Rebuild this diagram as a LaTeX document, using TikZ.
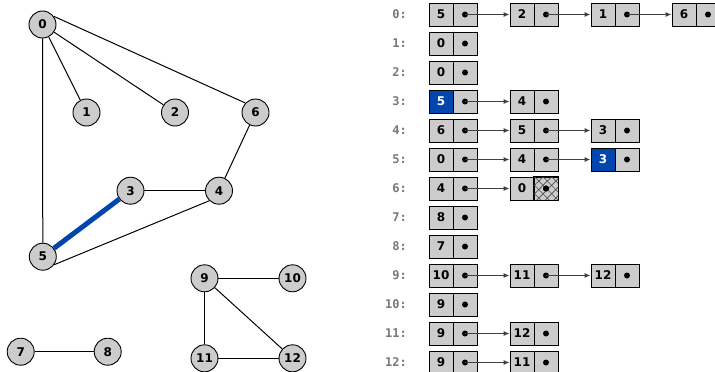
\documentclass[tikz,border=0pt]{standalone}
\usepackage{fontspec}
\setmainfont{DejaVu Sans}
\newfontfamily\monob{DejaVu Sans Mono}
\usetikzlibrary{arrows.meta,patterns.meta}
\definecolor{cellgray}{HTML}{CCCCCC}
\definecolor{hlblue}{HTML}{0046AD}
\definecolor{lblgray}{HTML}{777777}
\definecolor{linkgray}{HTML}{404040}
\tikzset{
  vert/.style={circle,draw=black,fill=cellgray,minimum size=27pt,inner sep=0pt,line width=0.9pt,font=\bfseries\fontsize{12}{14}\selectfont},
  edge/.style={draw=black,line width=1pt},
  hledge/.style={draw=hlblue,line width=5pt},
  valcell/.style={draw=black,fill=cellgray,minimum width=24pt,minimum height=23pt,inner sep=0pt,line width=1pt,font=\bfseries\fontsize{12}{14}\selectfont},
  hlcell/.style={valcell,fill=hlblue,text=white},
  rowlabel/.style={anchor=east,text=lblgray,inner sep=0pt,font=\monob\bfseries\fontsize{12}{14}\selectfont},
  link/.style={draw=linkgray,line width=1pt,-{Latex[length=6pt,width=5pt]}},
}
\begin{document}
\begin{tikzpicture}[x=1pt,y=-1pt]
\clip (0,0) rectangle (715,372);
% graph
\node[vert] (n0) at (42.5,24.5) {0};
\node[vert] (n1) at (86.5,112.5) {1};
\node[vert] (n2) at (175,112.5) {2};
\node[vert] (n6) at (255.5,112.5) {6};
\node[vert] (n3) at (130.5,190.7) {3};
\node[vert] (n4) at (219,190.7) {4};
\node[vert] (n5) at (42.8,256.7) {5};
\node[vert] (n9) at (204.5,278.3) {9};
\node[vert] (n10) at (292.5,278.3) {10};
\node[vert] (n7) at (20.7,351.7) {7};
\node[vert] (n8) at (107.7,351.7) {8};
\node[vert] (n11) at (204.5,358.3) {11};
\node[vert] (n12) at (292.5,358.3) {12};
\draw[edge] (n0) -- (n1);
\draw[edge] (n0) -- (n2);
\draw[edge] (n0.36) -- (n6.137);
\draw[edge] (n0) -- (n5);
\draw[edge] (n6) -- (n4);
\draw[edge] (n3) -- (n4);
\draw[edge] (n5.-35) -- (n4.-134);
\draw[hledge] (n3) -- (n5);
\draw[edge] (n9) -- (n10);
\draw[edge] (n9) -- (n11);
\draw[edge] (n9) -- (n12);
\draw[edge] (n11) -- (n12);
\draw[edge] (n7) -- (n8);
% adjacency lists
\foreach \r/\lst in {0/{5,2,1,6},1/{0},2/{0},3/{5,4},4/{6,5,3},5/{0,4,3},6/{4,0},7/{8},8/{7},9/{10,11,12},10/{9},11/{9,12},12/{9,11}}{
  \pgfmathsetmacro\yy{14.5+29*\r}
  \node[rowlabel] (l\r) at (407,\yy) {\r:};
  \foreach \v [count=\i from 0] in \lst {
    \node[valcell] (v\r-\i) at ({441+81*\i},\yy) {\v};
    \node[valcell] (p\r-\i) at ({465+81*\i},\yy) {};
    \fill (p\r-\i.center) circle (3pt);
    \ifnum\i>0
      \pgfmathtruncatemacro\prev{\i-1}
      \draw[link] (p\r-\prev.center) -- (v\r-\i.west);
    \fi
  }
}
% highlighted cells
\node[hlcell] (h3) at (v3-0) {5};
\node[hlcell] (h5) at (v5-2) {3};
% null pointer cell (crosshatched)
\fill[pattern={Lines[angle=45,distance=6pt,line width=0.6pt]},pattern color=black!70] (p6-1.south west) rectangle (p6-1.north east);
\fill[pattern={Lines[angle=-45,distance=6pt,line width=0.6pt]},pattern color=black!70] (p6-1.south west) rectangle (p6-1.north east);
\draw[line width=1pt] (p6-1.south west) rectangle (p6-1.north east);
\fill (p6-1.center) circle (3pt);
\end{tikzpicture}
\end{document}
